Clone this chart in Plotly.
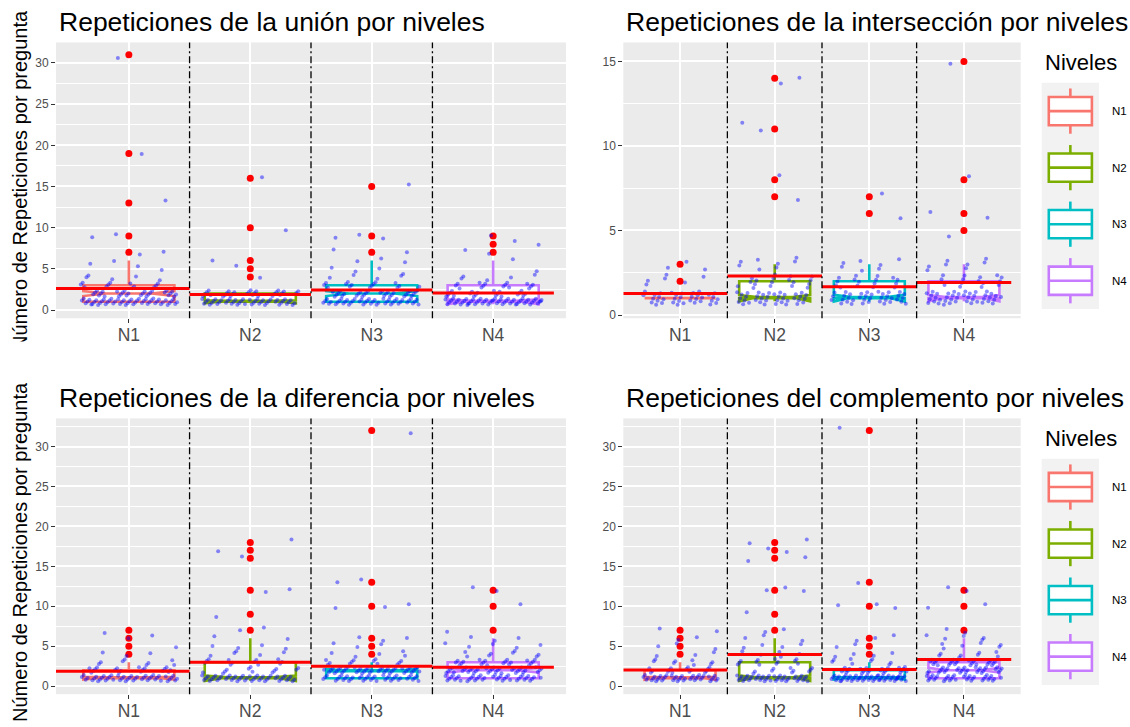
import plotly.graph_objects as go

W, H = 1130, 727
FONT = "Liberation Sans, Arial, Helvetica, sans-serif"

levels = ["N1", "N2", "N3", "N4"]
level_colors = ["#F8766D", "#7CAE00", "#00BFC4", "#C77CFF"]

panel_titles = [
    "Repeticiones de la unión por niveles",
    "Repeticiones de la intersección por niveles",
    "Repeticiones de la diferencia por niveles",
    "Repeticiones del complemento por niveles",
]
y_title = "Número de Repeticiones por pregunta"

# ---------------- Unión ----------------
union_q1 = [1, 1, 1, 1]
union_median = [2, 1, 2, 1]
union_q3 = [3, 2, 3, 3]
union_lower = [1, 1, 1, 1]
union_upper = [6, 2, 6, 6]
union_n = [106, 78, 107, 102]
union_mean = [2.62, 1.88, 2.42, 2.06]
union_outliers = [[7, 9, 13, 19, 31], [4, 5, 6, 10, 16], [7, 9, 15], [7, 8, 9]]
union_counts = [
    {1: 50, 2: 28, 3: 12, 4: 5, 5: 2, 6: 2, 7: 2, 9: 2, 13: 1, 19: 1, 31: 1},
    {1: 45, 2: 28, 4: 1, 5: 1, 6: 1, 10: 1, 16: 1},
    {1: 45, 2: 30, 3: 15, 4: 5, 5: 3, 6: 3, 7: 2, 9: 3, 15: 1},
    {1: 55, 2: 20, 3: 15, 4: 5, 5: 1, 6: 1, 7: 2, 8: 2, 9: 1},
]

# ---------------- Intersección ----------------
inter_q1 = [1, 1, 1, 1]
inter_median = [1, 1, 1, 1]
inter_q3 = [1, 2, 2, 2]
inter_lower = [1, 1, 1, 1]
inter_upper = [1, 3, 3, 3]
inter_n = [45, 70, 63, 70]
inter_mean = [1.28, 2.31, 1.67, 1.93]
inter_outliers = [[2, 3], [7, 8, 11, 14], [6, 7], [5, 6, 8, 15]]
inter_counts = [
    {1: 36, 2: 6, 3: 3},
    {1: 38, 2: 18, 3: 8, 7: 1, 8: 1, 11: 2, 14: 2},
    {1: 38, 2: 16, 3: 7, 6: 1, 7: 1},
    {1: 42, 2: 15, 3: 8, 5: 1, 6: 2, 8: 1, 15: 1},
]

# ---------------- Diferencia ----------------
dif_q1 = [1, 1, 1, 1]
dif_median = [1, 1, 2, 2]
dif_q3 = [2, 3, 2, 3]
dif_lower = [1, 1, 1, 1]
dif_upper = [3, 6, 3, 6]
dif_n = [78, 89, 111, 115]
dif_mean = [1.87, 3.0, 2.5, 2.37]
dif_outliers = [[4, 5, 6, 7], [7, 9, 12, 16, 17, 18], [4, 5, 6, 10, 13, 32], [7, 10, 12]]
dif_counts = [
    {1: 45, 2: 18, 3: 8, 4: 3, 5: 1, 6: 2, 7: 1},
    {1: 46, 2: 12, 3: 12, 4: 5, 5: 4, 6: 2, 7: 2, 9: 1, 12: 2, 16: 1, 17: 1, 18: 1},
    {1: 40, 2: 42, 3: 12, 4: 5, 5: 3, 6: 3, 10: 3, 13: 2, 32: 1},
    {1: 40, 2: 35, 3: 20, 4: 8, 5: 5, 6: 3, 7: 1, 10: 1, 12: 2},
]

# ---------------- Complemento ----------------
comp_q1 = [1, 1, 1, 1]
comp_median = [1, 1, 1, 2]
comp_q3 = [2, 3, 2, 3]
comp_lower = [1, 1, 1, 1]
comp_upper = [3, 6, 3, 6]
comp_n = [75, 89, 102, 115]
comp_mean = [2.04, 3.98, 2.08, 3.33]
comp_outliers = [[4, 5, 6, 7], [7, 9, 12, 16, 17, 18], [4, 5, 6, 10, 13, 32], [7, 10, 12]]
comp_counts = [
    {1: 42, 2: 15, 3: 8, 4: 3, 5: 3, 6: 2, 7: 2},
    {1: 43, 2: 10, 3: 12, 4: 5, 5: 4, 6: 3, 7: 2, 9: 1, 12: 3, 16: 2, 17: 2, 18: 2},
    {1: 55, 2: 25, 3: 8, 4: 4, 5: 2, 6: 3, 10: 3, 13: 1, 32: 1},
    {1: 35, 2: 30, 3: 25, 4: 8, 5: 6, 6: 5, 7: 2, 10: 2, 12: 2},
]

panels = [
    dict(q1=union_q1, med=union_median, q3=union_q3, lo=union_lower, hi=union_upper,
         n=union_n, mean=union_mean, out=union_outliers, counts=union_counts),
    dict(q1=inter_q1, med=inter_median, q3=inter_q3, lo=inter_lower, hi=inter_upper,
         n=inter_n, mean=inter_mean, out=inter_outliers, counts=inter_counts),
    dict(q1=dif_q1, med=dif_median, q3=dif_q3, lo=dif_lower, hi=dif_upper,
         n=dif_n, mean=dif_mean, out=dif_outliers, counts=dif_counts),
    dict(q1=comp_q1, med=comp_median, q3=comp_q3, lo=comp_lower, hi=comp_upper,
         n=comp_n, mean=comp_mean, out=comp_outliers, counts=comp_counts),
]

# panel boxes in pixels: left, right, top, bottom
panel_px = [
    (56.0, 566.0, 42.7, 320.0),
    (623.3, 1020.7, 42.7, 320.0),
    (56.0, 566.0, 420.7, 698.0),
    (623.3, 1020.7, 420.7, 698.0),
]
y_ranges = [(-1.0, 32.49), (-0.19, 16.12), (-1.0, 33.52), (-1.0, 33.52)]
y_dticks = [5, 5, 5, 5]
X_RANGE = (0.4, 4.6)
BOX_LW = 2.6


def pxx(x):
    return x / W


def pxy(y):
    return 1 - y / H


def jitter(counts, k):
    """geom_jitter-like spread (width 0.4, height 0.4) with a fixed low-discrepancy sequence."""
    xs, ys = [], []
    j = 0
    s1 = 0.37 * k
    s2 = 0.61 * k
    for v, c in counts.items():
        for _ in range(c):
            j += 1
            u = (s1 + j * 0.7548776662) % 1.0
            w = (s2 + j * 0.5698402910) % 1.0
            xs.append(k + (u - 0.5) * 0.8)
            ys.append(v + (w - 0.5) * 0.8)
    return xs, ys


fig = go.Figure()
layout_axes = {}
shapes = []
annotations = []

for p, (pan, geom) in enumerate(zip(panels, panel_px)):
    sfx = "" if p == 0 else str(p + 1)
    xa, ya = "x" + sfx, "y" + sfx
    left, right, top, bottom = geom

    layout_axes["xaxis" + sfx] = dict(
        domain=[pxx(left), pxx(right)], anchor=ya, range=list(X_RANGE),
        tickmode="array", tickvals=[1, 2, 3, 4], ticktext=levels,
        showgrid=True, gridcolor="white", gridwidth=1.5, zeroline=False,
        ticks="outside", ticklen=4, tickwidth=1.1, tickcolor="#333333",
        ticklabelstandoff=-3,
        tickfont=dict(family=FONT, size=17.5, color="#4D4D4D"), showline=False,
    )
    layout_axes["yaxis" + sfx] = dict(
        domain=[pxy(bottom), pxy(top)], anchor=xa, range=list(y_ranges[p]),
        tick0=0, dtick=y_dticks[p],
        showgrid=True, gridcolor="white", gridwidth=1.5, zeroline=False,
        minor=dict(dtick=2.5, tick0=0, showgrid=True, gridcolor="white", gridwidth=0.7, ticks=""),
        ticks="outside", ticklen=4, tickwidth=1.1, tickcolor="#333333",
        tickfont=dict(family=FONT, size=12, color="#4D4D4D"), showline=False,
    )

    # notched boxplots
    for i in range(4):
        k = i + 1
        iqr = pan["q3"][i] - pan["q1"][i]
        notch = 1.58 * iqr / (pan["n"][i] ** 0.5)
        fig.add_trace(go.Box(
            x=[k], q1=[pan["q1"][i]], median=[pan["med"][i]], q3=[pan["q3"][i]],
            lowerfence=[pan["lo"][i]], upperfence=[pan["hi"][i]],
            notched=True, notchspan=[notch], notchwidth=0.25,
            width=0.75, whiskerwidth=0, boxpoints=False,
            fillcolor="white", line=dict(color=level_colors[i], width=BOX_LW),
            xaxis=xa, yaxis=ya, showlegend=False, hoverinfo="skip",
        ))

    # outliers
    ox, oy = [], []
    for i in range(4):
        ox += [i + 1] * len(pan["out"][i])
        oy += pan["out"][i]
    fig.add_trace(go.Scatter(
        x=ox, y=oy, mode="markers", marker=dict(color="red", size=7),
        xaxis=xa, yaxis=ya, showlegend=False, hoverinfo="skip",
    ))

    # jittered observations
    jx, jy = [], []
    for i in range(4):
        a, b = jitter(pan["counts"][i], i + 1)
        jx += a
        jy += b
    fig.add_trace(go.Scatter(
        x=jx, y=jy, mode="markers",
        marker=dict(color="rgba(0,0,255,0.45)", size=4, line=dict(width=0)),
        xaxis=xa, yaxis=ya, showlegend=False, hoverinfo="skip",
    ))

    # mean segments
    mx, my = [], []
    for i in range(4):
        k = i + 1
        x0 = X_RANGE[0] if i == 0 else k - 0.5
        mx += [x0, k + 0.5, None]
        my += [pan["mean"][i], pan["mean"][i], None]
    fig.add_trace(go.Scatter(
        x=mx, y=my, mode="lines", line=dict(color="red", width=3),
        xaxis=xa, yaxis=ya, showlegend=False, hoverinfo="skip",
    ))

    # separators between levels
    for xs in (1.5, 2.5, 3.5):
        shapes.append(dict(
            type="line", xref=xa, yref=ya + " domain", x0=xs, x1=xs, y0=0, y1=1,
            line=dict(color="black", width=1.3, dash="7px,3px,2px,3px"), layer="above",
        ))

    # panel title
    annotations.append(dict(
        text=panel_titles[p], x=pxx(left + 0.5), y=pxy(top - 20.5), xref="paper", yref="paper",
        xanchor="left", yanchor="middle", showarrow=False,
        font=dict(family=FONT, size=26.5, color="black"),
    ))

# y-axis titles (left column)
for row, cy in enumerate((181.0, 555.0)):
    annotations.append(dict(
        text=y_title, x=pxx(20), y=pxy(cy), xref="paper", yref="paper",
        xanchor="center", yanchor="middle", textangle=-90, showarrow=False,
        font=dict(family=FONT, size=20, color="black"),
    ))
# the upper row's cell ends just above the first letter of its axis title
annotations.append(dict(
    text=" ", x=pxx(20), y=pxy(354), xref="paper", yref="paper",
    xanchor="center", yanchor="middle", showarrow=False,
    width=40, height=20, bgcolor="white", borderpad=0,
))

# legends
KEY_H = 56.85
for row, dy in enumerate((0.0, 378.0)):
    annotations.append(dict(
        text="Niveles", x=pxx(1042.5), y=pxy(63 + dy), xref="paper", yref="paper",
        xanchor="left", yanchor="middle", showarrow=False,
        font=dict(family=FONT, size=22, color="black"),
    ))
    shapes.append(dict(
        type="rect", xref="paper", yref="paper",
        x0=pxx(1041.7), x1=pxx(1099.0), y0=pxy(83.3 + dy), y1=pxy(83.3 + dy + 4 * KEY_H),
        fillcolor="#F2F2F2", line=dict(width=0), layer="above",
    ))
    for i in range(4):
        t = 83.3 + dy + i * KEY_H
        cx = (1041.7 + 1099.0) / 2
        c = level_colors[i]
        shapes.append(dict(
            type="line", xref="paper", yref="paper", x0=pxx(cx), x1=pxx(cx),
            y0=pxy(t + 0.1 * KEY_H), y1=pxy(t + 0.9 * KEY_H),
            line=dict(color=c, width=BOX_LW), layer="above",
        ))
        shapes.append(dict(
            type="rect", xref="paper", yref="paper",
            x0=pxx(1048.8), x1=pxx(1091.9), y0=pxy(t + 0.25 * KEY_H), y1=pxy(t + 0.75 * KEY_H),
            fillcolor="white", line=dict(color=c, width=BOX_LW), layer="above",
        ))
        shapes.append(dict(
            type="line", xref="paper", yref="paper", x0=pxx(1048.8), x1=pxx(1091.9),
            y0=pxy(t + 0.5 * KEY_H), y1=pxy(t + 0.5 * KEY_H),
            line=dict(color=c, width=BOX_LW), layer="above",
        ))
        annotations.append(dict(
            text=levels[i], x=pxx(1110.0), y=pxy(t + 0.5 * KEY_H), xref="paper", yref="paper",
            xanchor="left", yanchor="middle", showarrow=False,
            font=dict(family=FONT, size=11.5, color="black"),
        ))

fig.update_layout(
    width=W, height=H, margin=dict(l=0, r=0, t=0, b=0),
    paper_bgcolor="white", plot_bgcolor="#EBEBEB",
    showlegend=False, boxmode="overlay",
    shapes=shapes, annotations=annotations,
    font=dict(family=FONT),
    **layout_axes,
)

fig.write_html("out.html")
